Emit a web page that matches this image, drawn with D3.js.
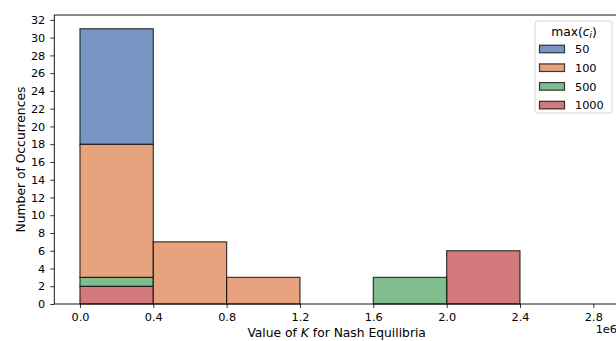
<!DOCTYPE html>
<html><head><meta charset="utf-8">
<script src="https://cdn.jsdelivr.net/npm/d3@7"></script>
<style>
body{margin:0;background:#fff;}
text{font-family:"DejaVu Sans",sans-serif;}
</style></head>
<body><svg id="c" width="616" height="341"></svg>
<script>
// Data
const binStarts = [0, 400000, 800000, 1200000, 1600000, 2000000, 2400000];
const binWidth = 400000;
const seriesNames = ["1000", "500", "100", "50"]; // stacking order bottom -> top
const counts1000 = [2, 0, 0, 0, 0, 6, 0];
const counts500  = [1, 0, 0, 0, 3, 0, 0];
const counts100  = [15, 7, 3, 0, 0, 0, 0];
const counts50   = [13, 0, 0, 0, 0, 0, 0];
const legendOrder = ["50", "100", "500", "1000"];
const colors = {"50": "#7995c4", "100": "#e6a37d", "500": "#80be8e", "1000": "#d37a7d"};
const xTicks = [0, 400000, 800000, 1200000, 1600000, 2000000, 2400000, 2800000];
const yTicks = d3.range(0, 33, 2);

const rows = binStarts.map((b, i) => ({x0: b, "1000": counts1000[i], "500": counts500[i], "100": counts100[i], "50": counts50[i]}));
const stacked = d3.stack().keys(seriesNames)(rows);

const svg = d3.select("#c");
const L = 54.3, R = 619, T = 15, B = 304;
const TF = 11.3, LF = 12.3;
const x = d3.scaleLinear().domain([-140000, 2940000]).range([L, R]);
const y = d3.scaleLinear().domain([0, 32.55]).range([B, T]);

const g = svg.append("g");
stacked.forEach(layer => {
  g.selectAll(null).data(layer.filter(d => d[1] - d[0] > 0)).enter().append("rect")
    .attr("x", d => x(d.data.x0))
    .attr("width", d => x(d.data.x0 + binWidth) - x(d.data.x0))
    .attr("y", d => y(d[1]))
    .attr("height", d => y(d[0]) - y(d[1]))
    .attr("fill", colors[layer.key])
    .attr("stroke", "rgba(0,0,0,0.75)")
    .attr("stroke-width", 1.2);
});

// axes
const xAxis = d3.axisBottom(x).tickValues(xTicks).tickSize(4).tickPadding(5.3)
  .tickFormat(d => (d / 1e6).toFixed(1));
const gx = svg.append("g").attr("transform", `translate(0,${B})`).call(xAxis);
const yAxis = d3.axisLeft(y).tickValues(yTicks).tickSize(4).tickPadding(5);
const gy = svg.append("g").attr("transform", `translate(${L},0)`).call(yAxis);
[gx, gy].forEach(a => {
  a.select(".domain").remove();
  a.selectAll("text").attr("font-size", TF).attr("fill", "#000").style("font-family", "DejaVu Sans");
  a.selectAll("line").attr("stroke", "#000").attr("stroke-width", 0.8);
});

// spines
svg.append("rect").attr("x", L).attr("y", T).attr("width", R - L).attr("height", B - T)
  .attr("fill", "none").attr("stroke", "#000").attr("stroke-width", 0.9);

// labels
const xl = svg.append("text").attr("x", (L + R) / 2).attr("y", 337).attr("text-anchor", "middle").attr("font-size", LF);
xl.append("tspan").text("Value of ");
xl.append("tspan").attr("font-style", "italic").text("K");
xl.append("tspan").text(" for Nash Equilibria");
svg.append("text").attr("x", 617).attr("y", 333).attr("text-anchor", "end").attr("font-size", TF).text("1e6");
svg.append("text").attr("transform", `translate(25,${(T + B) / 2}) rotate(-90)`).attr("text-anchor", "middle")
  .attr("font-size", LF).text("Number of Occurrences");

// legend
const lg = svg.append("g");
lg.append("rect").attr("x", 535).attr("y", 21).attr("width", 77).attr("height", 92).attr("rx", 3)
  .attr("fill", "rgba(255,255,255,0.8)").attr("stroke", "#d0d0d0").attr("stroke-width", 0.9);
const lt = lg.append("text").attr("x", 574).attr("y", 35.5).attr("text-anchor", "middle").attr("font-size", LF);
lt.append("tspan").text("max(");
lt.append("tspan").attr("font-style", "italic").text("c");
lt.append("tspan").attr("font-style", "italic").attr("font-size", 8.5).attr("dy", 2.5).text("i");
lt.append("tspan").attr("dy", -2.5).text(")");
legendOrder.forEach((k, i) => {
  const cy = 49 + i * 18.7;
  lg.append("rect").attr("x", 539.5).attr("y", cy - 3.8).attr("width", 25).attr("height", 7.6)
    .attr("fill", colors[k]).attr("stroke", "rgba(0,0,0,0.75)").attr("stroke-width", 1.2);
  lg.append("text").attr("x", 575).attr("y", cy + 4.2).attr("font-size", TF).text(k);
});
</script></body></html>
